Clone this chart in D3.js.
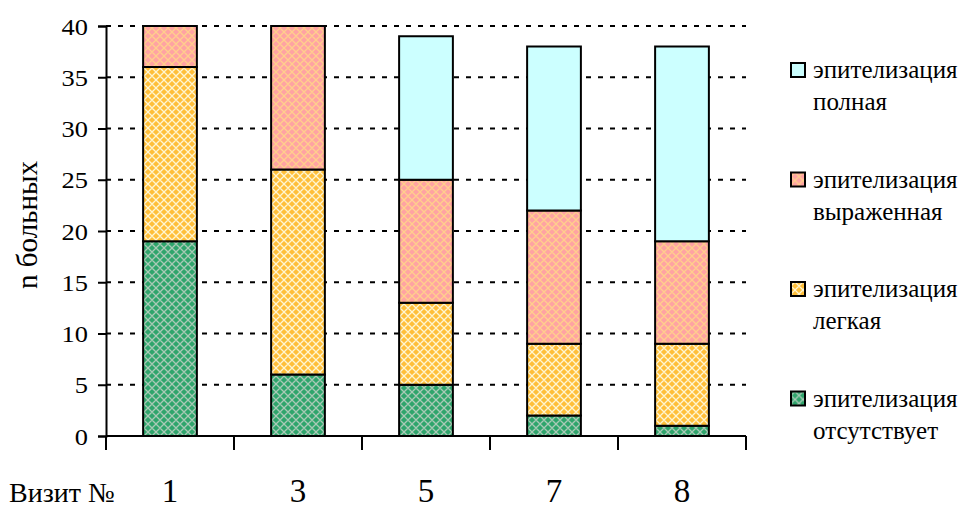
<!DOCTYPE html>
<html>
<head>
<meta charset="utf-8">
<script src="https://cdn.jsdelivr.net/npm/d3@7"></script>
<style>
  html, body { margin: 0; padding: 0; background: #fff; }
  svg { display: block; }
</style>
</head>
<body>
<svg id="chart" width="965" height="511"></svg>
<script>
// Visits along the x axis
const visits = ["1", "3", "5", "7", "8"];
// Epithelialisation grades, stacked from the bottom up
const grades = ["отсутствует", "легкая", "выраженная", "полная"];
// Number of patients per grade at each visit
const absent   = [19, 6, 5, 2, 1];
const light    = [17, 20, 8, 7, 8];
const marked   = [4, 14, 12, 13, 10];
const complete = [0, 0, 14, 16, 19];
const yTicks = [0, 5, 10, 15, 20, 25, 30, 35, 40];

const SERIF = "'Liberation Serif', 'Times New Roman', Times, serif";

const seriesValues = [absent, light, marked, complete];
const rows = visits.map((v, i) => {
  const r = { visit: v };
  grades.forEach((g, k) => { r[g] = seriesValues[k][i]; });
  return r;
});

const svg = d3.select("#chart");
const defs = svg.append("defs");

// Lattice fills for the hatched segments
const fills = [
  { id: "p0", base: "#2fa56c", line: "#a9c9b6" },
  { id: "p1", base: "#ffbf3a", line: "#fff6d2" },
  { id: "p2", base: "#ffa3a3", line: "#ffcf8c" },
  { id: "p3", base: "#ccffff", line: null }
];
fills.forEach(f => {
  const p = defs.append("pattern").attr("id", f.id)
    .attr("patternUnits", "userSpaceOnUse").attr("width", 8).attr("height", 8);
  p.append("rect").attr("width", 8).attr("height", 8).attr("fill", f.base);
  if (f.line) {
    p.append("path").attr("d", "M0,4 L4,0 L8,4 L4,8 Z")
      .attr("fill", "none").attr("stroke", f.line).attr("stroke-width", 1.3);
  }
});

const x = d3.scaleBand().domain(visits).range([106, 746])
  .paddingInner(0.58).paddingOuter(0.29);
const y = d3.scaleLinear().domain([0, 40]).range([436, 26]);

function label(sel, size) {
  return sel.style("font-family", SERIF).style("font-size", size + "px")
    .attr("fill", "#000");
}

// Dashed horizontal gridlines
svg.append("g").selectAll("line").data(yTicks.filter(t => t > 0)).join("line")
  .attr("x1", 106).attr("x2", 746)
  .attr("y1", d => y(d)).attr("y2", d => y(d))
  .attr("stroke", "#000").attr("stroke-width", 2)
  .attr("stroke-dasharray", "5,7");

// Stacked bars
const stack = d3.stack().keys(grades)(rows);
svg.append("g").selectAll("g").data(stack).join("g")
  .attr("fill", (d, i) => `url(#${fills[i].id})`)
  .selectAll("rect").data(d => d.filter(s => s[1] - s[0] > 0)).join("rect")
  .attr("x", d => x(d.data.visit))
  .attr("width", x.bandwidth())
  .attr("y", d => y(d[1]))
  .attr("height", d => y(d[0]) - y(d[1]))
  .attr("stroke", "#000").attr("stroke-width", 2);

// Y axis
const yAxis = svg.append("g").attr("transform", "translate(106,0)")
  .call(d3.axisLeft(y).tickValues(yTicks).tickSize(8).tickPadding(10));
yAxis.attr("font-family", null).attr("font-size", null);
yAxis.select(".domain").attr("stroke-width", 2);
yAxis.selectAll(".tick line").attr("stroke-width", 2);
// tick numbers drawn a little wide
label(yAxis.selectAll(".tick text"), 23)
  .attr("x", null).attr("dy", null)
  .attr("transform", "translate(-18,8) scale(1.15,1)");

// X axis: baseline with ticks between visits
const step = x.step();
svg.append("line").attr("x1", 106).attr("x2", 746)
  .attr("y1", 436).attr("y2", 436).attr("stroke", "#000").attr("stroke-width", 2);
svg.append("g").selectAll("line").data(d3.range(visits.length + 1)).join("line")
  .attr("x1", i => 106 + i * step).attr("x2", i => 106 + i * step)
  .attr("y1", 436).attr("y2", 450).attr("stroke", "#000").attr("stroke-width", 2);

label(svg.append("g").selectAll("text").data(visits).join("text")
  .attr("x", d => x(d) + x.bandwidth() / 2).attr("y", 502)
  .attr("text-anchor", "middle").text(d => d), 33);

label(svg.append("text").attr("x", 9).attr("y", 502).text("Визит №"), 28);

// Y axis title
label(svg.append("text").attr("transform", "translate(37,225) rotate(-90)")
  .attr("text-anchor", "middle").text("n больных"), 29);

// Legend, top entry is the top of the stack
const legendOrder = [3, 2, 1, 0];
const leg = svg.append("g").selectAll("g").data(legendOrder).join("g")
  .attr("transform", (d, i) => `translate(791,${63 + i * 109.5})`);
leg.append("rect").attr("width", 14).attr("height", 14)
  .attr("fill", d => `url(#${fills[d].id})`)
  .attr("stroke", "#000").attr("stroke-width", 2);
label(leg.append("text").attr("x", 22).attr("y", 15).text("эпителизация"), 25);
label(leg.append("text").attr("x", 22).attr("y", 47).text(d => grades[d]), 25);
</script>
</body>
</html>
